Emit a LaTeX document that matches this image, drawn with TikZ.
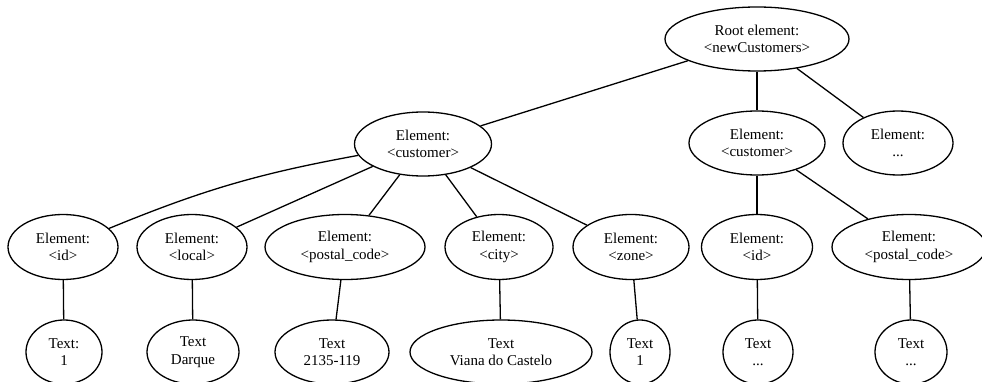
\documentclass[tikz,border=0pt]{standalone}
\usepackage{fontspec}
\setmainfont{Liberation Serif}
\usetikzlibrary{shapes.geometric}
\begin{document}
\begin{tikzpicture}[x=1pt,y=-1pt,
  el/.style={ellipse,draw,line width=1.3pt,inner sep=0pt,align=center,
    font=\fontsize{15}{17.5}\selectfont},
  conn/.style={line width=1.3pt}]
\useasboundingbox (0,0) rectangle (982,382);
% level 1
\node[el,minimum width=184pt,minimum height=64pt] (root) at (757,39) {Root element:\\<newCustomers>};
% level 2
\node[el,minimum width=137pt,minimum height=64pt] (c1) at (423,144) {Element:\\<customer>};
\node[el,minimum width=136pt,minimum height=64pt] (c2) at (757,143) {Element:\\<customer>};
\node[el,minimum width=110pt,minimum height=64pt] (ed) at (898,143) {Element:\\...};
% level 3
\node[el,minimum width=110pt,minimum height=65pt] (id1) at (63,247) {Element:\\<id>};
\node[el,minimum width=110pt,minimum height=65pt] (loc) at (192,247) {Element:\\<local>};
\node[el,minimum width=160pt,minimum height=65pt] (pc1) at (345,247) {Element:\\<postal\_code>};
\node[el,minimum width=108pt,minimum height=65pt] (city) at (499,247) {Element:\\<city>};
\node[el,minimum width=116pt,minimum height=65pt] (zone) at (631,247) {Element:\\<zone>};
\node[el,minimum width=111pt,minimum height=65pt] (id2) at (757,247) {Element:\\<id>};
\node[el,minimum width=154pt,minimum height=65pt] (pc2) at (909,247) {Element:\\<postal\_code>};
% level 4
\node[el,minimum width=76pt,minimum height=64pt] (t1) at (64,352) {Text:\\1};
\node[el,minimum width=92pt,minimum height=64pt] (t2) at (193,352) {Text\\Darque};
\node[el,minimum width=114pt,minimum height=64pt] (t3) at (332,352) {Text\\2135-119};
\node[el,minimum width=182pt,minimum height=64pt] (t4) at (501,352) {Text\\Viana do Castelo};
\node[el,minimum width=60pt,minimum height=64pt] (t5) at (640,352) {Text\\1};
\node[el,minimum width=70pt,minimum height=64pt] (t6) at (758,352) {Text\\...};
\node[el,minimum width=72pt,minimum height=64pt] (t7) at (911,352) {Text\\...};
% connectors
\draw[conn] (root) -- (c1);
\draw[conn] (root) -- (c2);
\draw[conn] (root) -- (ed);
\draw[conn] (c1) to[bend right=6] (id1);
\draw[conn] (c1) -- (loc);
\draw[conn] (c1) -- (pc1);
\draw[conn] (c1) -- (city);
\draw[conn] (c1) -- (zone);
\draw[conn] (c2) -- (id2);
\draw[conn] (c2) -- (pc2);
\draw[conn] (id1) -- (t1);
\draw[conn] (loc) -- (t2);
\draw[conn] (pc1) -- (t3);
\draw[conn] (city) -- (t4);
\draw[conn] (zone) -- (t5);
\draw[conn] (id2) -- (t6);
\draw[conn] (pc2) -- (t7);
\end{tikzpicture}
\end{document}
